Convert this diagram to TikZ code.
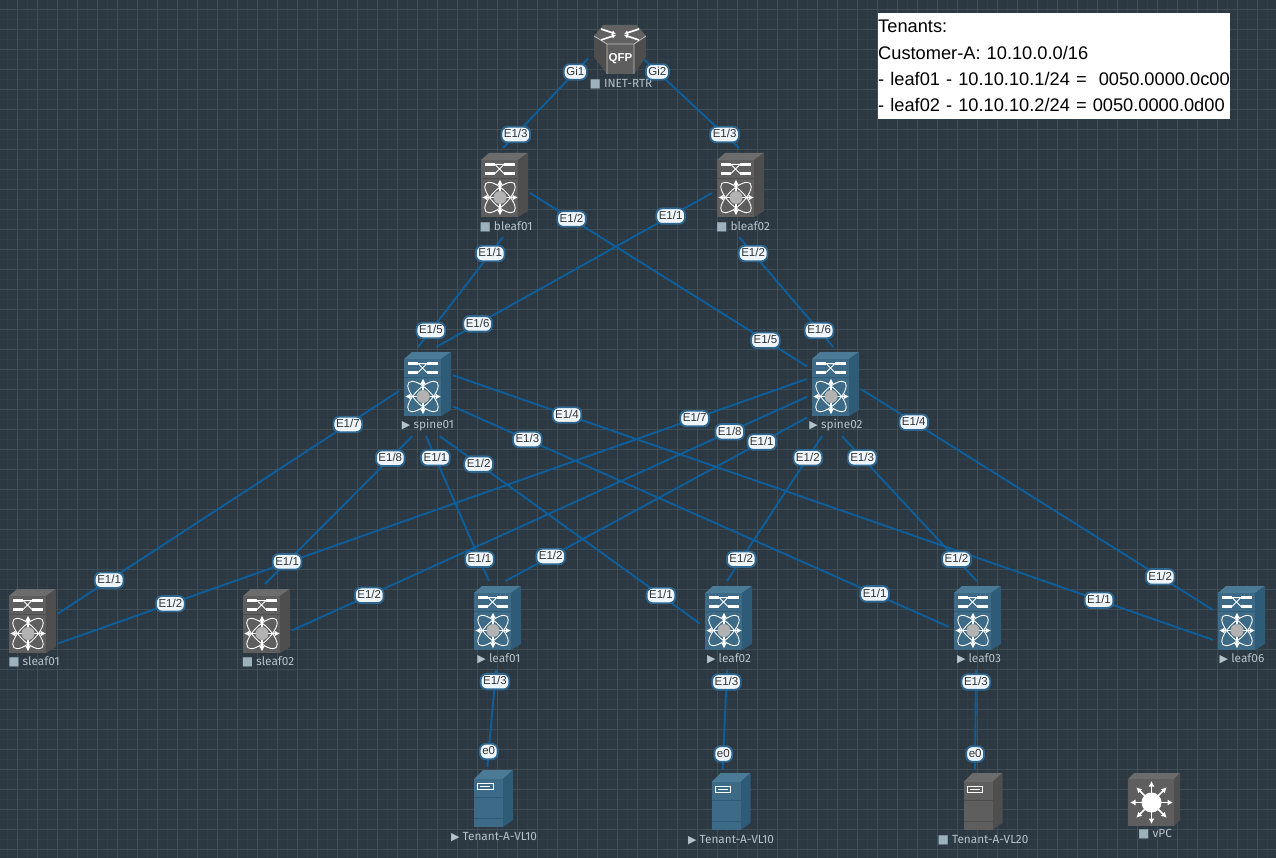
\documentclass[tikz,border=0pt]{standalone}
\usepackage{fontspec}
\setmainfont{Liberation Sans}
\newfontfamily\devfont{Fira Sans}
\newfontfamily\markfont{DejaVu Sans}
\usetikzlibrary{arrows.meta}

\definecolor{canvas}{HTML}{2C3942}
\definecolor{gridminor}{HTML}{323F48}
\definecolor{gridmajor}{HTML}{3F4E56}
\definecolor{wire}{HTML}{0F5E9C}
\definecolor{portedge}{HTML}{2F6690}
\definecolor{portfill}{HTML}{EEF6FC}
\definecolor{devtext}{HTML}{B4C4CB}
\definecolor{bluefront}{HTML}{3D6B87}
\definecolor{bluetop}{HTML}{4B7A96}
\definecolor{blueside}{HTML}{2E5C78}
\definecolor{grayfront}{HTML}{5E5E5E}
\definecolor{graytop}{HTML}{6C6C6C}
\definecolor{grayside}{HTML}{4E4E4E}

\newcommand{\runmark}{{\markfont\fontsize{11}{11}\selectfont\char"25B6}}
\newcommand{\stopmark}{{\markfont\fontsize{12}{12}\selectfont\textcolor{devtext!130}{\char"25A0}}}

\tikzset{
  nexusbox/.style={minimum width=54pt,minimum height=89pt,inner sep=0pt,outer sep=0pt},
  hostbox/.style={minimum width=48pt,minimum height=76pt,inner sep=0pt,outer sep=0pt},
  rtrbox/.style={minimum width=55pt,minimum height=75pt,inner sep=0pt,outer sep=0pt},
  devlabel/.style={text=devtext,inner sep=0pt,font=\devfont\fontsize{11.8}{12}\selectfont},
  link/.style={draw=wire,line width=1.9pt},
  portlabel/.style={draw=portedge,fill=portfill,line width=1.8pt,rounded corners=6pt,
    text=black!80,inner xsep=2.5pt,inner ysep=0pt,text height=11pt,text depth=4.5pt,
    font=\fontsize{11.5}{12}\selectfont},
  notebox/.style={fill=white,text=black,anchor=north west,inner sep=0pt,
    minimum width=352pt,minimum height=106pt,text width=352pt,align=left,
    font=\fontsize{18.25}{26.4}\selectfont},
  arrowline/.style={white,line width=1.6pt,-{Latex[length=5.5pt,width=6pt]}},
  pics/nexus/.style={code={
    \fill[fill=#1top] (0,8)--(8,1)--(47,1)--(37,8)--cycle;
    \fill[fill=#1side] (37,8)--(47,1)--(47,59)--(37,65)--cycle;
    \fill[fill=#1front] (0,8) rectangle (37,26);
    \fill[fill=#1front] (0,27) rectangle (37,65);
    \draw[draw=#1side,line width=.9pt] (0,26.5)--(37,26.5)--(47,19.5);
    \draw[white,line width=3pt] (4,12.5)--(14,12.5) (23,12.5)--(34,12.5)
      (4,21.5)--(14,21.5) (23,21.5)--(34,21.5);
    \draw[white,line width=1pt] (14,12.5)--(23,21.5) (14,21.5)--(23,12.5) (14,12.5)--(23,12.5);
    \draw[white,line width=.9pt] (19,45.5) ellipse [x radius=20pt,y radius=8pt,rotate=45];
    \draw[white,line width=.9pt] (19,45.5) ellipse [x radius=20pt,y radius=8pt,rotate=-45];
    \foreach \ang in {0,90,180,270}
      \draw[arrowline] (19,45.5)--++(\ang:18);
    \fill[fill=black!30] (19,45.5) circle (6.5pt);
  }},
  pics/server/.style={code={
    \fill[fill=#1top] (1,10)--(10,1)--(40,1)--(30,10)--cycle;
    \fill[fill=#1side] (30,10)--(40,1)--(40,51)--(30,58)--cycle;
    \fill[fill=#1front] (1,10) rectangle (30,58);
    \draw[draw=#1side,line width=.9pt] (1,28)--(30,28) (1,49)--(30,49);
    \draw[white,line width=.9pt] (4.5,14.5) rectangle (20,20.5);
    \draw[white,line width=.7pt] (7,17.5)--(17,17.5);
  }},
  pics/qfp/.style={code={
    \fill[fill=graytop!90!black] (0,13)--(9,2)--(43,2)--(52,13)--(40,21)--(13,21)--cycle;
    \fill[fill=grayside] (0,13)--(13,21)--(13,51)--(0,34)--cycle;
    \fill[fill=grayside] (52,13)--(40,21)--(40,51)--(52,34)--cycle;
    \fill[fill=grayfront] (13,21) rectangle (40,51);
    \draw[black!25,line width=.8pt] (0,13)--(13,21)--(40,21)--(52,13) (13,21)--(13,51) (40,21)--(40,51);
    \foreach \sx/\sy/\ex/\ey in {7/6/22/11, 45/6/30/11, 7/17/22/12, 45/17/30/12}
      \draw[white,line width=1.6pt,-{Latex[length=4pt,width=5pt]}] (\sx,\sy)--(\ex,\ey);
    \node[text=white,inner sep=0pt,font=\bfseries\fontsize{11.5}{12}\selectfont] (qfptext) at (26.5,36) {QFP};
  }},
  pics/vswitch/.style={code={
    \fill[fill=#1top] (0,6)--(6,0)--(52,0)--(46,6)--cycle;
    \fill[fill=#1side] (46,6)--(52,0)--(52,47)--(46,53)--cycle;
    \fill[fill=#1front] (0,6) rectangle (46,53);
    \foreach \ang in {0,45,...,315}
      \draw[arrowline] (23.5,29.5)--++(\ang:21.5);
    \fill[white] (23.5,29.5) circle (10pt);
  }},
}

\def\fabriclinks{
  rtr.west/bleaf01.90/{Gi1}/{E1/3},
  rtr.east/bleaf02.90/{Gi2}/{E1/3},
  bleaf01.270/spine01.100.2/{E1/1}/{E1/5},
  bleaf01.359/spine02.137.8/{E1/2}/{E1/5},
  bleaf02.181/spine01.77.3/{E1/1}/{E1/6},
  bleaf02.270/spine02.91/{E1/2}/{E1/6},
  spine01.179/sleaf01.29.9/{E1/7}/{E1/1},
  spine01.253.7/sleaf02.90/{E1/8}/{E1/1},
  spine01.270/leaf01.99/{E1/1}/{E1/1},
  spine01.287.5/leaf02.176.8/{E1/2}/{E1/1},
  spine01.331.8/leaf03.183.2/{E1/3}/{E1/1},
  spine01.31.4/leaf06.208.2/{E1/4}/{E1/1},
  spine02.155.2/sleaf01.331.8/{E1/7}/{E1/2},
  spine02.191.5/sleaf02.356.8/{E1/8}/{E1/2},
  spine02.224.5/leaf01.78.6/{E1/1}/{E1/2},
  spine02.255/leaf02.90/{E1/2}/{E1/2},
  spine02.280.2/leaf03.89/{E1/3}/{E1/2},
  spine02.5.3/leaf06.150.1/{E1/4}/{E1/2}}
\def\hostlinks{
  leaf01.270/hostA.97.5/{E1/3}/{e0},
  leaf02.270/hostB.101.9/{E1/3}/{e0},
  leaf03.270/hostC.99/{E1/3}/{e0}}

\begin{document}
\begin{tikzpicture}[x=1pt,y=-1pt]
  \useasboundingbox (0,0) rectangle (1276,858);
  \fill[canvas] (0,0) rectangle (1276,858);
  % grid
  \foreach \gx in {7.5,27.5,...,1270} \draw[gridminor,line width=.6pt] (\gx,0)--(\gx,858);
  \foreach \gy in {-1,19,...,860} \draw[gridminor,line width=.6pt] (0,\gy)--(1276,\gy);
  \foreach \gx in {17.5,37.5,...,1270} \draw[gridmajor,line width=.8pt] (\gx,0)--(\gx,858);
  \foreach \gy in {9,29,...,860} \draw[gridmajor,line width=.8pt] (0,\gy)--(1276,\gy);

  % boxes the wires end on
  \node[rtrbox] (rtr) at (615.5,58.5) {};
  \foreach \dev/\px/\py in {bleaf01/503/192.5,bleaf02/739/192.5,spine01/426/391.5,spine02/834/391.5,
      sleaf01/31/628.5,sleaf02/265/628.5,leaf01/496/625.5,leaf02/727/625.5,leaf03/976/625.5,leaf06/1240/625.5}
    \node[nexusbox] (\dev) at (\px,\py) {};
  \foreach \dev/\px/\py in {hostA/492/805,hostB/730/808,hostC/981/808}
    \node[hostbox] (\dev) at (\px,\py) {};

  % wires
  \foreach \from/\to/\pa/\pb in \fabriclinks \draw[link] (\from)--(\to);
  \foreach \from/\to/\pa/\pb in \hostlinks \draw[link] (\from)--(\to);

  % devices
  \pic at (594,23) {qfp};
  \foreach \px/\py/\col in {503/192.5/gray,739/192.5/gray,426/391.5/blue,834/391.5/blue,31/628.5/gray,
      265/628.5/gray,496/625.5/blue,727/625.5/blue,976/625.5/blue,1240/625.5/blue}
    \pic at (\px-22,\py-40.5) {nexus=\col};
  \pic at (473,769) {server=blue};
  \pic at (710.5,772) {server=blue};
  \pic at (962.5,772) {server=gray};
  \pic at (1128,773) {vswitch=gray};

  % names under the devices
  \node[devlabel] (rtrname) at (621,84) {\stopmark\ INET-RTR};
  \node[devlabel] (bleaf01name) at (506,227) {\stopmark\ bleaf01};
  \node[devlabel] (bleaf02name) at (743,227) {\stopmark\ bleaf02};
  \node[devlabel] (spine01name) at (428,425) {\runmark\ spine01};
  \node[devlabel] (spine02name) at (836,425) {\runmark\ spine02};
  \node[devlabel] (sleaf01name) at (34,662) {\stopmark\ sleaf01};
  \node[devlabel] (sleaf02name) at (268,662) {\stopmark\ sleaf02};
  \node[devlabel] (leaf01name) at (499,659) {\runmark\ leaf01};
  \node[devlabel] (leaf02name) at (729,659) {\runmark\ leaf02};
  \node[devlabel] (leaf03name) at (979,659) {\runmark\ leaf03};
  \node[devlabel] (leaf06name) at (1242,659) {\runmark\ leaf06};
  \node[devlabel] (hostAname) at (494,837) {\runmark\ Tenant-A-VL10};
  \node[devlabel] (hostBname) at (731,840) {\runmark\ Tenant-A-VL10};
  \node[devlabel] (hostCname) at (983,840) {\stopmark\ Tenant-A-VL20};
  \node[devlabel] (vpcname) at (1155,834) {\stopmark\ vPC};

  % interface labels
  \foreach \from/\to/\pa/\pb [count=\n] in \fabriclinks
    \path (\from)-- node[portlabel,pos=.15] (fa\n) {\pa} node[portlabel,pos=.85] (fb\n) {\pb} (\to);
  \foreach \from/\to/\pa/\pb [count=\n] in \hostlinks
    \path (\from)-- node[portlabel,pos=.12] (ha\n) {\pa} node[portlabel,pos=.84] (hb\n) {\pb} (\to);

  \node[notebox] (tenants) at (878,13) {Tenants:\\Customer-A: 10.10.0.0/16\\\makebox[352pt][l]{- leaf01 - 10.10.10.1/24 =\ \ 0050.0000.0c00}\\- leaf02 - 10.10.10.2/24 = 0050.0000.0d00};
\end{tikzpicture}
\end{document}
